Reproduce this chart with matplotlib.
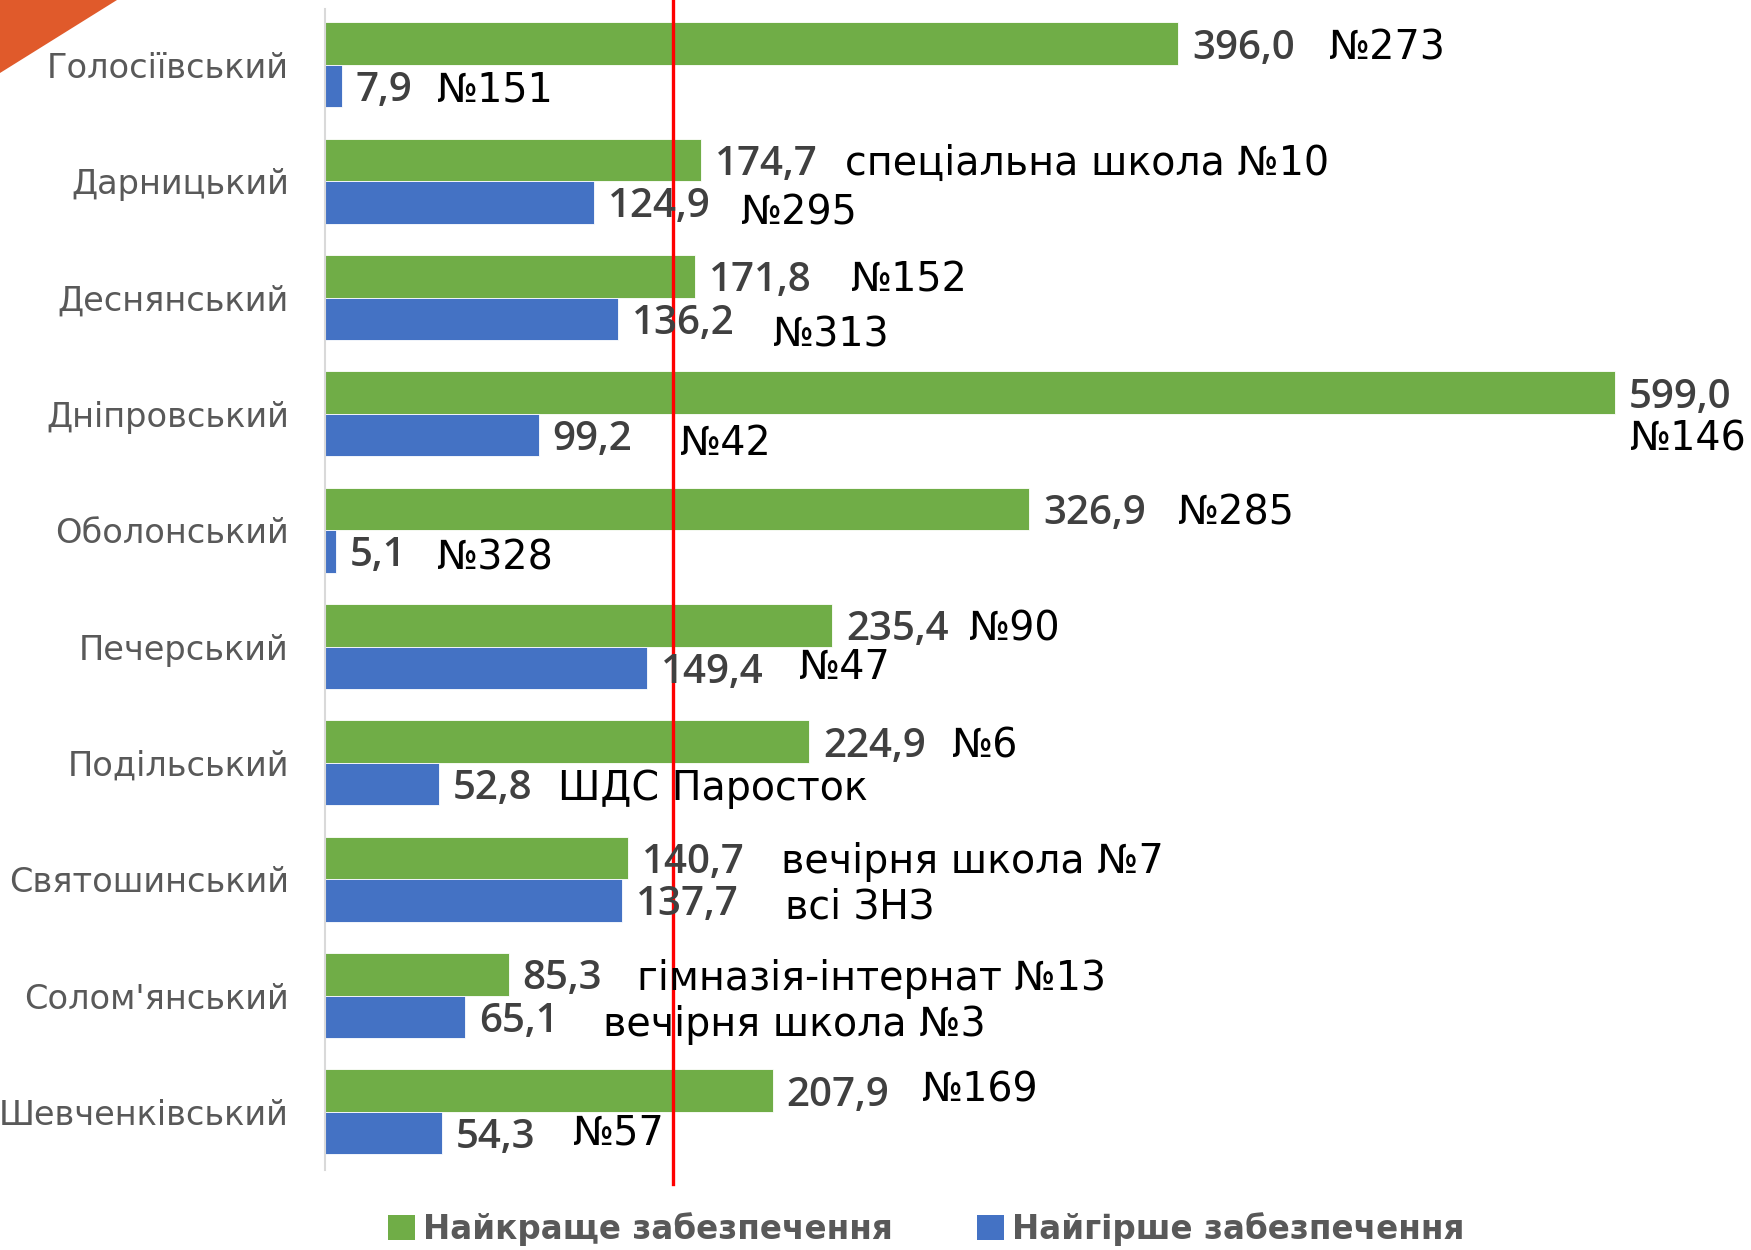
import matplotlib
matplotlib.use("Agg")
import matplotlib.pyplot as plt
from matplotlib.patches import Patch, Polygon

districts = ["Голосіївський", "Дарницький", "Деснянський", "Дніпровський",
             "Оболонський", "Печерський", "Подільський", "Святошинський",
             "Солом'янський", "Шевченківський"]
best = [396.0, 174.7, 171.8, 599.0, 326.9, 235.4, 224.9, 140.7, 85.3, 207.9]
worst = [7.9, 124.9, 136.2, 99.2, 5.1, 149.4, 52.8, 137.7, 65.1, 54.3]
best_school = ["№273", "спеціальна школа №10", "№152", "№146", "№285", "№90",
               "№6", "вечірня школа №7", "гімназія-інтернат №13", "№169"]
worst_school = ["№151", "№295", "№313", "№42", "№328", "№47",
                "ШДС Паросток", "всі ЗНЗ", "вечірня школа №3", "№57"]
city_average = 161.6

# where the school names sit (x in data units, y shift in bar heights)
best_school_x = [466, 241.5, 244, 606, 396, 299, 291, 211.5, 145, 277]
best_school_dy = [0, 0, 0, 1.0, 0, 0, 0, 0, 0, -0.1]
worst_school_x = [52, 193, 208, 165, 52, 220, 108, 213.5, 129, 115]
worst_school_dy = [0, 0.15, 0.3, 0.1, 0.05, -0.1, 0, 0.05, 0.1, -0.1]

GREEN = "#70AD47"
BLUE = "#4472C4"
GREY = "#595959"
DARK = "#404040"

fig = plt.figure(figsize=(17.51, 12.5), dpi=100)
ax = fig.add_axes([325 / 1751, 1 - 1170 / 1250, (610 * 2.154) / 1751, 1161 / 1250])

h = 0.365
ypos = list(range(len(districts)))
ax.barh([y - h / 2 for y in ypos], best, height=h, color=GREEN, edgecolor="white", linewidth=0.6)
ax.barh([y + h / 2 for y in ypos], worst, height=h, color=BLUE, edgecolor="white", linewidth=0.6)

ax.set_xlim(0, 610)
ax.set_ylim(9.5, -0.48)
ax.set_yticks(ypos)
ax.set_yticklabels(districts, fontsize=24.2, color=GREY, family="DejaVu Sans")
ax.tick_params(axis="y", length=0, pad=26)
ax.set_xticks([])
for side in ("top", "right", "bottom"):
    ax.spines[side].set_visible(False)
ax.spines["left"].set_color("#D9D9D9")
ax.spines["left"].set_linewidth(1.5)

ax.axvline(city_average, ymin=-0.012, ymax=1.008, color="#FF0000", linewidth=2.4,
           clip_on=False, zorder=1)

val_kw = dict(fontsize=29, color=DARK, family="Open Sans", weight="semibold",
              va="center_baseline", ha="left", textcoords="offset points")
name_kw = dict(fontsize=28.5, color="black", family="DejaVu Sans", va="center_baseline", ha="left")

for i in ypos:
    yb = i - h / 2
    yw = i + h / 2
    ax.annotate(f"{best[i]:.1f}".replace(".", ","), (best[i], yb), xytext=(10, 0), **val_kw)
    ax.annotate(f"{worst[i]:.1f}".replace(".", ","), (worst[i], yw), xytext=(10, 0), **val_kw)
    ax.text(best_school_x[i], yb + best_school_dy[i] * h, best_school[i], **name_kw)
    ax.text(worst_school_x[i], yw + worst_school_dy[i] * h, worst_school[i], **name_kw)

# corner accent
fig.patches.append(Polygon([(0, 1), (117 / 1751, 1), (0, 1 - 73 / 1250)], closed=True,
                           transform=fig.transFigure, facecolor="#E05A2B", edgecolor="none"))

handles = [Patch(facecolor=GREEN, label="Найкраще забезпечення"),
           Patch(facecolor=BLUE, label="Найгірше забезпечення")]
fig.legend(handles=handles, loc="center", bbox_to_anchor=(0.529, 0.017), ncol=2,
           frameon=False, handlelength=0.8, handleheight=0.8, handletextpad=0.25,
           columnspacing=2.6, prop={"family": "DejaVu Sans", "weight": "bold", "size": 23.5},
           labelcolor=GREY)

fig.savefig("out.png", dpi=100)
